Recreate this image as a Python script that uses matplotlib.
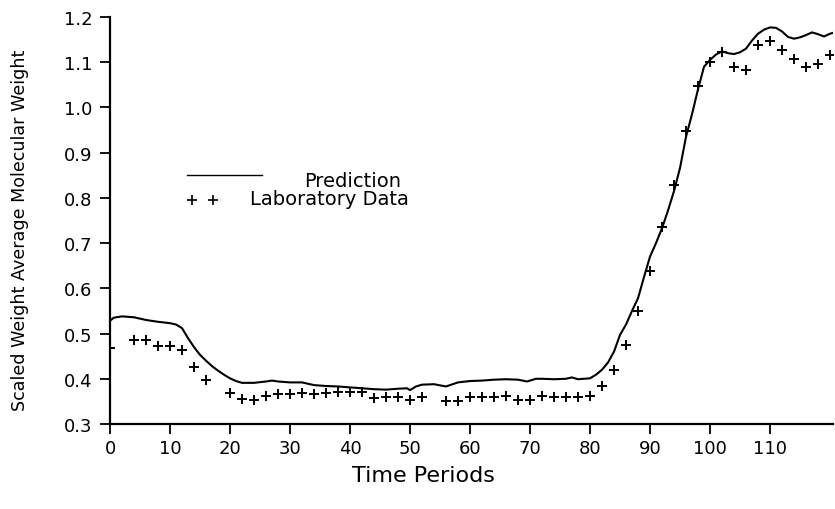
import matplotlib
matplotlib.use('Agg')
import matplotlib.pyplot as plt
import numpy as np

# model prediction
pred_t = [0, 0.6, 2, 4, 6, 8, 10, 11, 12, 13, 14, 15, 16, 17, 18, 19, 20, 21, 22, 24,
          26, 27, 28, 30, 32, 34, 36, 38, 40, 42, 44, 46, 48, 49.5, 50, 51, 52, 54, 56, 58,
          60, 62, 64, 66, 68, 69.5, 71, 72, 74, 76, 77, 78, 80, 81, 82, 83, 84, 85, 86, 87,
          88, 89, 90, 91, 92, 93, 94, 95, 96, 97, 98, 99, 100, 101, 102, 103, 104, 105, 106, 107,
          108, 109, 110, 111, 112, 113, 114, 115, 116, 117, 118, 119, 120, 120.5]
pred_y = [0.528, 0.535, 0.538, 0.536, 0.530, 0.526, 0.523, 0.520, 0.512, 0.490, 0.470, 0.453, 0.440, 0.428, 0.418, 0.409, 0.401, 0.395, 0.391, 0.391,
          0.394, 0.396, 0.394, 0.392, 0.392, 0.386, 0.384, 0.383, 0.381, 0.379, 0.377, 0.376, 0.378, 0.379, 0.375, 0.383, 0.387, 0.388, 0.383, 0.392,
          0.395, 0.396, 0.398, 0.399, 0.398, 0.394, 0.400, 0.400, 0.399, 0.400, 0.403, 0.399, 0.401, 0.409, 0.420, 0.436, 0.460, 0.497, 0.520, 0.550,
          0.578, 0.625, 0.670, 0.700, 0.733, 0.772, 0.815, 0.866, 0.935, 0.985, 1.040, 1.090, 1.105, 1.117, 1.124, 1.120, 1.118, 1.122, 1.130, 1.148,
          1.163, 1.172, 1.177, 1.176, 1.168, 1.156, 1.152, 1.155, 1.160, 1.166, 1.162, 1.157, 1.163, 1.165]

# laboratory measurements
lab_t = [0, 4, 6, 8, 10, 12, 14, 16,
         20, 22, 24, 26, 28, 30, 32, 34, 36, 38, 40, 42, 44, 46, 48, 50, 52,
         56, 58, 60, 62, 64, 66, 68, 70, 72, 74, 76, 78, 80, 82, 84, 86, 88,
         90, 92, 94, 96, 98, 100, 102, 104, 106, 108, 110, 112, 114, 116, 118, 120]
lab_y = [0.469, 0.485, 0.486, 0.472, 0.472, 0.464, 0.426, 0.398,
         0.368, 0.356, 0.352, 0.362, 0.367, 0.367, 0.368, 0.366, 0.368, 0.370, 0.371, 0.370, 0.357, 0.359, 0.359, 0.354, 0.360,
         0.350, 0.350, 0.359, 0.360, 0.360, 0.362, 0.352, 0.353, 0.361, 0.360, 0.360, 0.360, 0.361, 0.385, 0.420, 0.474, 0.549,
         0.638, 0.736, 0.828, 0.948, 1.048, 1.101, 1.123, 1.089, 1.082, 1.137, 1.146, 1.128, 1.108, 1.089, 1.096, 1.115]

xticks = [0, 10, 20, 30, 40, 50, 60, 70, 80, 90, 100, 110]
yticks = [0.3, 0.4, 0.5, 0.6, 0.7, 0.8, 0.9, 1.0, 1.1, 1.2]

plt.rcParams['font.family'] = ['DejaVu Sans']

fig = plt.figure(figsize=(8.35, 5.10), dpi=100)
ax = fig.add_axes([110/835, 1-425/510, 723/835, 407/510])

ax.plot(pred_t, pred_y, color='black', lw=1.5)
ax.plot(lab_t, lab_y, ls='none', marker='+', ms=7.5, mew=1.4, color='black')

ax.set_xlim(0, 120.5)
ax.set_ylim(0.3, 1.2)
ax.set_xticks(xticks)
ax.set_yticks(yticks)
ax.set_yticklabels(['%.1f' % v for v in yticks])
ax.tick_params(direction='out', length=7.5, width=1.3, labelsize=13, pad=5)
ax.tick_params(axis='x', pad=3)
ax.spines['top'].set_visible(False)
ax.spines['right'].set_visible(False)
ax.spines['left'].set_linewidth(1.6)
ax.spines['bottom'].set_linewidth(1.6)

xl = ax.set_xlabel('Time Periods', fontsize=16)
xl.set_va('center')
ax.xaxis.set_label_coords(0.434, -0.126)
yl = ax.set_ylabel('Scaled Weight Average Molecular Weight', fontsize=12.6)
yl.set_va('center')
ax.yaxis.set_label_coords(-0.124, 0.479)

# hand made legend
ax.plot([0.107, 0.210], [0.612, 0.612], transform=ax.transAxes, color='black', lw=1.0)
ax.text(0.268, 0.598, 'Prediction', transform=ax.transAxes, fontsize=14, va='center')
ax.plot([0.113, 0.143], [0.551, 0.551], transform=ax.transAxes, ls='none',
        marker='+', ms=7, mew=1.2, color='black')
ax.text(0.194, 0.553, 'Laboratory Data', transform=ax.transAxes, fontsize=14, va='center')

fig.savefig('out.png', dpi=100)
